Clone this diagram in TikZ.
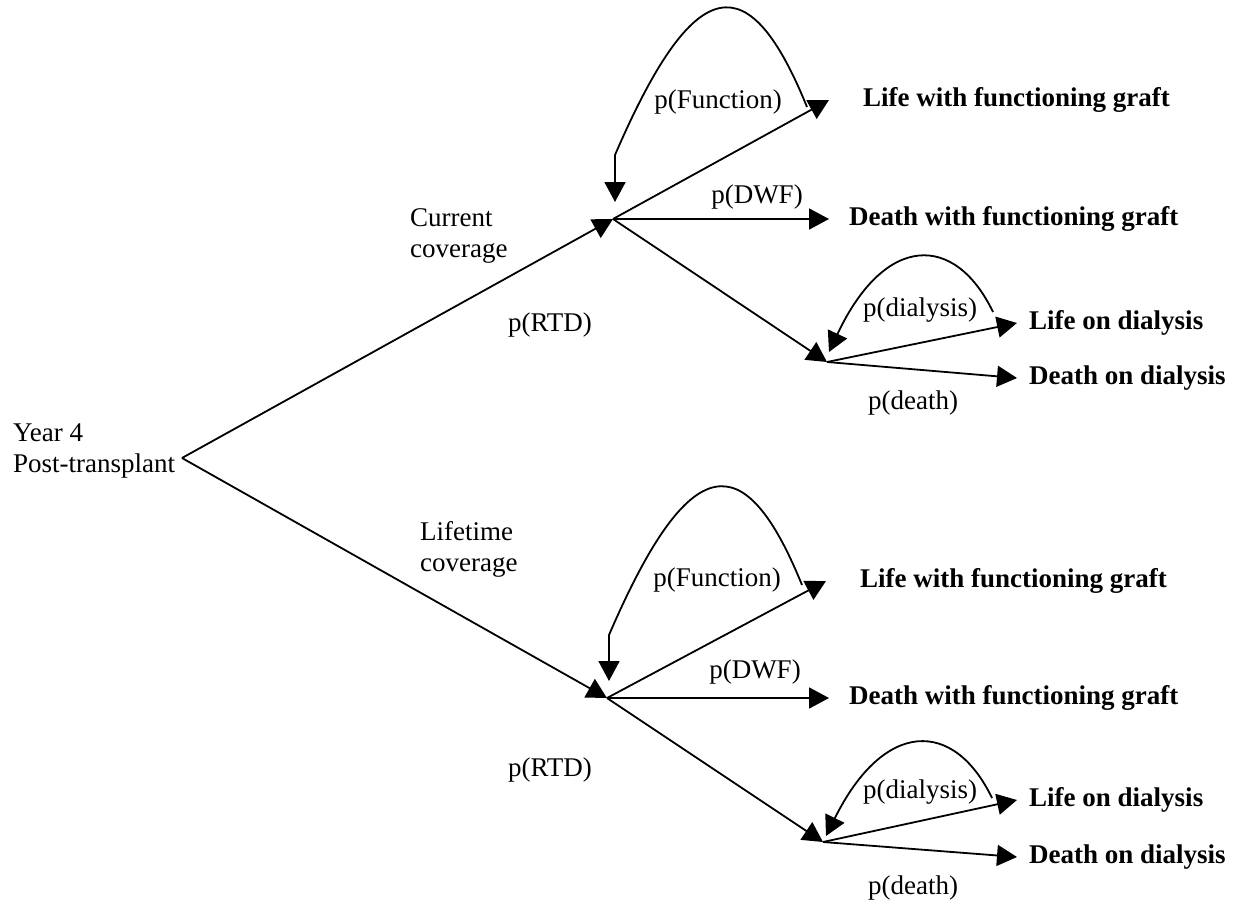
\documentclass[tikz,border=0pt]{standalone}
\usepackage{fontspec}
\setmainfont{Liberation Serif}
\usetikzlibrary{arrows.meta,positioning}
\newcommand{\treefont}{\fontsize{27}{31}\selectfont}

\begin{document}
\begin{tikzpicture}[x=1pt, y=-1pt,
  arr/.style={-{Triangle[length=20pt,width=21pt]}, line width=1.8pt},
  outcome/.style={font=\treefont\bfseries, inner sep=0pt},
  prob/.style={font=\treefont, inner sep=0pt},
  arm/.style={font=\treefont, align=left, anchor=base west, inner sep=0pt},
  node distance=12pt
]
  \useasboundingbox (0,0) rectangle (1252,907);

  % root (base = last line)
  \node[arm] (yr) at (13,472) {Year 4\\Post-transplant};
  \coordinate (root) at (182,458);

  % decision points
  \coordinate (cur) at (613,219);
  \coordinate (life) at (607,698);
  \coordinate (dialA) at (827,362);
  \coordinate (dialB) at (823,842);

  % arrow tips
  \coordinate (tFunA) at (829,100);
  \coordinate (tDwfA) at (829,219);
  \coordinate (tLodA) at (1017,323);
  \coordinate (tDodA) at (1017,378);
  \coordinate (tFunB) at (826,581);
  \coordinate (tDwfB) at (829,698);
  \coordinate (tLodB) at (1017,800);
  \coordinate (tDodB) at (1017,857);

  % outcomes
  \node[outcome, right=34pt of tFunA, anchor=west] (funA) {Life with functioning graft};
  \node[outcome, right=20pt of tDwfA, anchor=west] (dwfA) {Death with functioning graft};
  \node[outcome, right=12pt of tLodA, anchor=west] (lodA) {Life on dialysis};
  \node[outcome, right=12pt of tDodA, anchor=west] (dodA) {Death on dialysis};
  \node[outcome, right=34pt of tFunB, anchor=west] (funB) {Life with functioning graft};
  \node[outcome, right=20pt of tDwfB, anchor=west] (dwfB) {Death with functioning graft};
  \node[outcome, right=12pt of tLodB, anchor=west] (lodB) {Life on dialysis};
  \node[outcome, right=12pt of tDodB, anchor=west] (dodB) {Death on dialysis};

  % arm labels
  \node[arm] (curcov) at (410,257) {Current\\coverage};
  \node[arm] (lifecov) at (420,571) {Lifetime\\coverage};

  % probabilities
  \node[prob] (pfA) at (718,102) {p(Function)};
  \node[prob] (pdwfA) at (757,197) {p(DWF)};
  \node[prob] (prtdA) at (550,325) {p(RTD)};
  \node[prob] (pdiaA) at (920,310) {p(dialysis)};
  \node[prob] (pdthA) at (913,403) {p(death)};
  \node[prob] (pfB) at (717,580) {p(Function)};
  \node[prob] (pdwfB) at (755,672) {p(DWF)};
  \node[prob] (prtdB) at (550,770) {p(RTD)};
  \node[prob] (pdiaB) at (920,792) {p(dialysis)};
  \node[prob] (pdthB) at (913,888) {p(death)};

  % branches
  \draw[arr] (root) -- (cur);
  \draw[arr] (root) -- (life);

  \draw[arr] (cur) -- (tFunA);
  \draw[arr] (cur) -- (tDwfA);
  \draw[arr] (cur) -- (dialA);
  \draw[arr] (dialA) -- (tLodA);
  \draw[arr] (dialA) -- (tDodA);

  \draw[arr] (life) -- (tFunB);
  \draw[arr] (life) -- (tDwfB);
  \draw[arr] (life) -- (dialB);
  \draw[arr] (dialB) -- (tLodB);
  \draw[arr] (dialB) -- (tDodB);

  % loops back
  \draw[arr] (807,107) .. controls (750,-33) and (696,-33) .. (615,155) -- (615,202);
  \draw[arr] (993,312) .. controls (955,233) and (885,233) .. (829,352);
  \draw[arr] (802,585) .. controls (745,445) and (690,447) .. (609,635) -- (609,681);
  \draw[arr] (992,798) .. controls (954,719) and (884,719) .. (826,836);
\end{tikzpicture}
\end{document}
